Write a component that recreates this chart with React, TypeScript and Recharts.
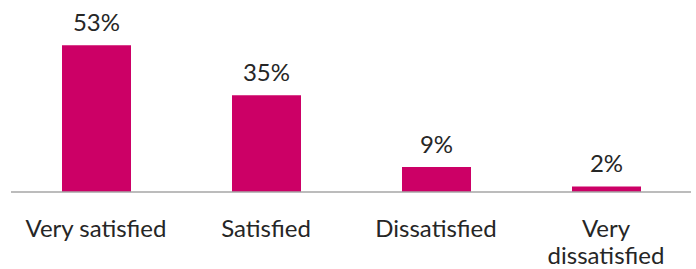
import { BarChart, Bar, XAxis, YAxis, LabelList } from 'recharts';

const categories = ['Very satisfied', 'Satisfied', 'Dissatisfied', 'Very dissatisfied'];
const tickLines = [['Very satisfied'], ['Satisfied'], ['Dissatisfied'], ['Very', 'dissatisfied']];
const shares = [53, 35, 9, 2];

const data = categories.map((name, i) => ({ name, value: shares[i], idx: i }));

const FONT = 'Lato, "Open Sans", sans-serif';

const CategoryTick = (props: any) => {
    const { x, y, index } = props;
    const lines = tickLines[index] || [props.payload.value];
    return (
        <text x={x} y={y} textAnchor="middle" fill="#262626" fontSize={24} fontFamily={FONT}>
            {lines.map((line, i) => (
                <tspan key={i} x={x} dy={i === 0 ? 37 : 27}>{line}</tspan>
            ))}
        </text>
    );
};

export default function App() {
    return (
        <div style={{ position: 'absolute', left: 0, top: 0, background: '#fff' }}>
            <BarChart
                width={696}
                height={269}
                data={data}
                margin={{ top: 26, right: 5, left: 11, bottom: 7 }}
            >
                <XAxis
                    dataKey="name"
                    height={70}
                    tickLine={false}
                    axisLine={{ stroke: '#a6a6a6', strokeWidth: 1.5 }}
                    tick={<CategoryTick />}
                    interval={0}
                />
                <YAxis hide domain={[0, 60]} />
                <Bar dataKey="value" fill="#cc0066" barSize={69} isAnimationActive={false}>
                    <LabelList
                        dataKey="value"
                        position="top"
                        offset={14}
                        formatter={(v: any) => `${v}%`}
                        fill="#262626"
                        fontSize={24}
                        fontFamily={FONT}
                    />
                </Bar>
            </BarChart>
        </div>
    );
}
